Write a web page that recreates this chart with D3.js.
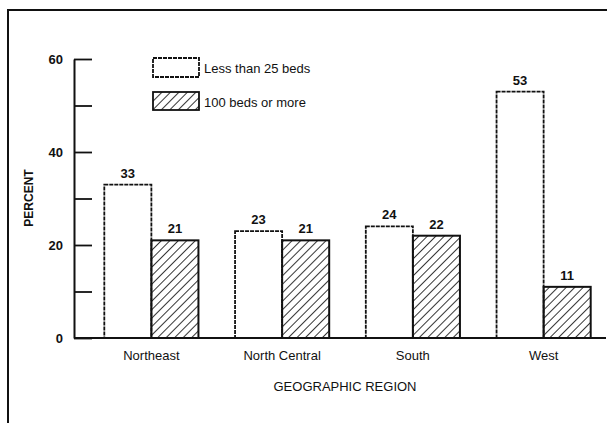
<!DOCTYPE html>
<html>
<head>
<meta charset="utf-8">
<script src="https://cdn.jsdelivr.net/npm/d3@7"></script>
<style>
  body { margin: 0; background: #fff; }
  svg text { font-family: "Liberation Sans", Arial, sans-serif; fill: #111; }
</style>
</head>
<body>
<svg id="chart" width="607" height="423"></svg>
<script>
// data
var regions = ['Northeast', 'North Central', 'South', 'West'];
var seriesNames = ['Less than 25 beds', '100 beds or more'];
var smallBeds = [33, 23, 24, 53];
var largeBeds = [21, 21, 22, 11];
var yTicks = [0, 10, 20, 30, 40, 50, 60];
var yLabels = [0, 20, 40, 60];

var svg = d3.select('#chart');

// hatch for the 100+ beds bars
var defs = svg.append('defs');
defs.append('pattern')
    .attr('id', 'hatch')
    .attr('patternUnits', 'userSpaceOnUse')
    .attr('width', 6)
    .attr('height', 6)
    .attr('patternTransform', 'rotate(45)')
    .append('line')
    .attr('x1', 0).attr('y1', 0)
    .attr('x2', 0).attr('y2', 6)
    .attr('stroke', '#111')
    .attr('stroke-width', 1.7);

// outer frame (top and left only, as in the scan)
svg.append('path')
    .attr('d', 'M8,423V10H607')
    .attr('fill', 'none')
    .attr('stroke', '#111')
    .attr('stroke-width', 2);

var y = d3.scaleLinear().domain([0, 60]).range([338, 59]);

var x0 = d3.scaleBand()
    .domain(regions)
    .range([86, 609])
    .paddingInner(0.28)
    .paddingOuter(0.14);

var x1 = d3.scaleBand()
    .domain(seriesNames)
    .range([0, x0.bandwidth()]);

// y axis: ticks point into the plot
var axisX = 74;
svg.append('g')
    .attr('transform', 'translate(' + axisX + ',0)')
    .call(d3.axisRight(y).tickValues(yTicks).tickSize(18).tickSizeOuter(0).tickFormat(''))
    .call(function(g) {
        g.select('.domain').attr('stroke', '#111').attr('stroke-width', 2);
        g.selectAll('.tick line').attr('stroke', '#111').attr('stroke-width', 1.8);
    });

svg.selectAll('.ylab')
    .data(yLabels)
    .enter().append('text')
    .attr('class', 'ylab')
    .attr('x', 63)
    .attr('y', function(d) { return y(d) + 5; })
    .attr('text-anchor', 'end')
    .style('font-size', '13px')
    .style('font-weight', 'bold')
    .text(function(d) { return d; });

svg.append('text')
    .attr('transform', 'translate(33,198) rotate(-90)')
    .attr('text-anchor', 'middle')
    .style('font-size', '12px')
    .style('font-weight', 'bold')
    .text('PERCENT');

// bars
var groups = svg.selectAll('.region')
    .data(regions)
    .enter().append('g')
    .attr('class', 'region')
    .attr('transform', function(d) { return 'translate(' + x0(d) + ',0)'; });

groups.append('rect')
    .attr('x', x1(seriesNames[0]))
    .attr('y', function(d, i) { return y(smallBeds[i]); })
    .attr('width', x1.bandwidth())
    .attr('height', function(d, i) { return y(0) - y(smallBeds[i]); })
    .attr('fill', '#fff')
    .attr('stroke', '#111')
    .attr('stroke-width', 1.8)
    .attr('stroke-dasharray', '4,1');

groups.append('rect')
    .attr('x', x1(seriesNames[1]))
    .attr('y', function(d, i) { return y(largeBeds[i]); })
    .attr('width', x1.bandwidth())
    .attr('height', function(d, i) { return y(0) - y(largeBeds[i]); })
    .attr('fill', 'url(#hatch)')
    .attr('stroke', '#111')
    .attr('stroke-width', 2);

// value labels
groups.append('text')
    .attr('x', x1(seriesNames[0]) + x1.bandwidth() / 2)
    .attr('y', function(d, i) { return y(smallBeds[i]) - 7; })
    .attr('text-anchor', 'middle')
    .style('font-size', '13px')
    .style('font-weight', 'bold')
    .text(function(d, i) { return smallBeds[i]; });

groups.append('text')
    .attr('x', x1(seriesNames[1]) + x1.bandwidth() / 2)
    .attr('y', function(d, i) { return y(largeBeds[i]) - 7; })
    .attr('text-anchor', 'middle')
    .style('font-size', '13px')
    .style('font-weight', 'bold')
    .text(function(d, i) { return largeBeds[i]; });

// baseline
svg.append('line')
    .attr('x1', axisX).attr('x2', 606)
    .attr('y1', y(0)).attr('y2', y(0))
    .attr('stroke', '#111')
    .attr('stroke-width', 2);

// category labels
groups.append('text')
    .attr('x', x0.bandwidth() / 2)
    .attr('y', 360)
    .attr('text-anchor', 'middle')
    .style('font-size', '13px')
    .text(function(d) { return d; });

svg.append('text')
    .attr('x', 345)
    .attr('y', 391)
    .attr('text-anchor', 'middle')
    .style('font-size', '13px')
    .text('GEOGRAPHIC REGION');

// legend
var legend = svg.selectAll('.legend')
    .data(seriesNames)
    .enter().append('g')
    .attr('class', 'legend')
    .attr('transform', function(d, i) { return 'translate(153,' + (58 + i * 34) + ')'; });

legend.append('rect')
    .attr('width', 46)
    .attr('height', function(d, i) { return i === 0 ? 19 : 18; })
    .attr('fill', function(d, i) { return i === 0 ? '#fff' : 'url(#hatch)'; })
    .attr('stroke', '#111')
    .attr('stroke-width', 1.8)
    .attr('stroke-dasharray', function(d, i) { return i === 0 ? '4,1' : null; });

legend.append('text')
    .attr('x', 51)
    .attr('y', 15)
    .style('font-size', '13px')
    .text(function(d) { return d; });
</script>
</body>
</html>
